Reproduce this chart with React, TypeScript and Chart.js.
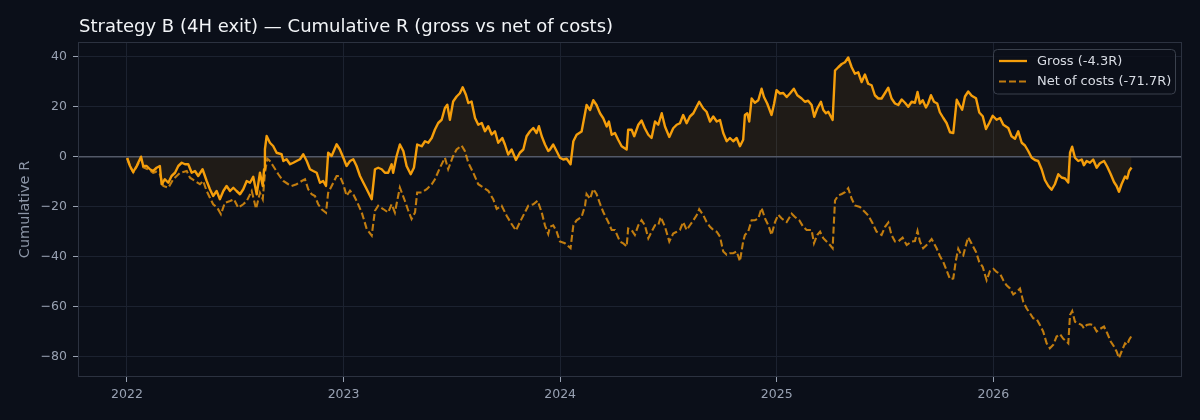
import React, { useEffect, useRef } from "react";
import { Chart, registerables } from "chart.js";

Chart.register(...registerables);

const TITLE = "Strategy B (4H exit) — Cumulative R (gross vs net of costs)";
const Y_LABEL = "Cumulative R";
const GROSS_LABEL = "Gross (-4.3R)";
const NET_LABEL = "Net of costs (-71.7R)";
const START_YEAR = 2022;
const YEAR_TICKS = [2022, 2023, 2024, 2025, 2026];
const Y_TICKS = [-80, -60, -40, -20, 0, 20, 40];
const X_MIN = 2021.774;
const X_MAX = 2026.871;
const Y_MIN = -88.1;
const Y_MAX = 45.9;

// time in years since 2022-01-01
const grossT = [
  0.001, 0.014, 0.029, 0.045, 0.065, 0.075, 0.091, 0.106, 0.121, 0.137, 0.152, 0.16, 0.175, 0.191, 0.206,
  0.222, 0.237, 0.253, 0.268, 0.283, 0.299, 0.314, 0.329, 0.349, 0.368, 0.383, 0.398, 0.414, 0.429, 0.445,
  0.46, 0.476, 0.491, 0.506, 0.522, 0.537, 0.553, 0.568, 0.583, 0.599, 0.614, 0.627, 0.633, 0.637, 0.645,
  0.66, 0.675, 0.691, 0.714, 0.722, 0.737, 0.753, 0.768, 0.783, 0.799, 0.814, 0.83, 0.845, 0.86, 0.876,
  0.891, 0.906, 0.919, 0.929, 0.945, 0.968, 0.983, 0.999, 1.014, 1.03, 1.045, 1.06, 1.076, 1.091, 1.107,
  1.13, 1.145, 1.16, 1.176, 1.191, 1.206, 1.222, 1.229, 1.245, 1.26, 1.276, 1.291, 1.31, 1.325, 1.34,
  1.361, 1.376, 1.391, 1.407, 1.422, 1.437, 1.453, 1.468, 1.479, 1.491, 1.506, 1.522, 1.537, 1.55, 1.565,
  1.576, 1.591, 1.607, 1.622, 1.638, 1.653, 1.668, 1.684, 1.699, 1.714, 1.733, 1.745, 1.76, 1.776, 1.796,
  1.814, 1.83, 1.845, 1.861, 1.876, 1.891, 1.902, 1.915, 1.93, 1.945, 1.953, 1.968, 1.984, 1.999, 2.014,
  2.03, 2.048, 2.061, 2.076, 2.099, 2.115, 2.122, 2.138, 2.153, 2.168, 2.184, 2.199, 2.215, 2.225, 2.238,
  2.253, 2.268, 2.284, 2.307, 2.314, 2.33, 2.342, 2.361, 2.376, 2.391, 2.407, 2.422, 2.438, 2.453, 2.469,
  2.484, 2.504, 2.522, 2.538, 2.553, 2.568, 2.584, 2.599, 2.615, 2.63, 2.642, 2.661, 2.676, 2.692, 2.707,
  2.723, 2.738, 2.753, 2.769, 2.784, 2.799, 2.815, 2.83, 2.845, 2.853, 2.864, 2.873, 2.884, 2.899, 2.915,
  2.93, 2.941, 2.956, 2.976, 2.988, 2.999, 3.015, 3.03, 3.046, 3.061, 3.079, 3.095, 3.115, 3.13, 3.145,
  3.161, 3.173, 3.187, 3.204, 3.215, 3.227, 3.238, 3.258, 3.269, 3.284, 3.3, 3.315, 3.33, 3.346, 3.361,
  3.376, 3.392, 3.407, 3.422, 3.438, 3.453, 3.469, 3.484, 3.5, 3.515, 3.53, 3.546, 3.561, 3.577, 3.592,
  3.607, 3.623, 3.638, 3.65, 3.661, 3.674, 3.689, 3.699, 3.712, 3.726, 3.741, 3.753, 3.769, 3.784, 3.8,
  3.815, 3.831, 3.843, 3.856, 3.869, 3.884, 3.9, 3.92, 3.935, 3.951, 3.966, 3.981, 3.997, 4.015, 4.031,
  4.046, 4.069, 4.084, 4.1, 4.115, 4.131, 4.146, 4.161, 4.177, 4.192, 4.207, 4.223, 4.238, 4.254, 4.269,
  4.284, 4.3, 4.315, 4.331, 4.346, 4.354, 4.364, 4.377, 4.392, 4.408, 4.418, 4.431, 4.446, 4.461, 4.477,
  4.492, 4.511, 4.526, 4.542, 4.557, 4.569, 4.58, 4.592, 4.608, 4.618, 4.627, 4.638,
];
const grossR = [
  -0.5, -3.7, -6.1, -3.7, 0, -3.7, -3.7, -5, -5.7, -4.4, -3.7, -11, -9, -10.4, -7.7,
  -6.4, -3.7, -2.4, -3, -3, -6.4, -5.7, -7.7, -5, -9.7, -13, -15.7, -13.7, -17, -13.7,
  -11.7, -13.7, -12.4, -13.7, -15, -13, -9.7, -10.4, -8, -15, -6.4, -11.7, -5, 3, 8.3,
  5.6, 4.3, 1.6, 1, -1.7, -1, -3, -2.4, -1.7, -1, 1, -1.7, -5, -5.7, -6.4,
  -10.4, -9.7, -11.7, 1.6, 0.3, 5, 2.9, -0.4, -3.7, -1.7, -1, -3.7, -7.7, -10.3, -13,
  -17, -5, -4.4, -5, -6.4, -6.4, -3, -6.4, 0.3, 4.9, 2.3, -3.7, -7, -4.4, 4.9,
  4.2, 6.2, 5.6, 7.5, 10.9, 13.5, 14.8, 19.5, 20.8, 14.8, 22.1, 24.1, 25.4, 27.8, 24.8,
  21.5, 22.1, 15.5, 12.8, 13.5, 10.2, 12.2, 8.9, 10.2, 5.6, 7.5, 4.9, 0.9, 2.9, -1.3,
  1.6, 2.9, 8.2, 10.2, 11.5, 9.5, 12.2, 8.2, 4.9, 2.3, 2.9, 4.9, 2.2, -0.4, -1.1,
  -0.8, -3, 6.2, 8.8, 10.1, 17.4, 20.7, 18.7, 22.6, 20.7, 17.4, 15.4, 12.1, 14.1, 8.8,
  9.5, 6.8, 4.2, 2.9, 10.8, 10.8, 8.2, 12.8, 14.5, 11.4, 8.8, 7.5, 14.1, 12.8, 17.4,
  12.1, 7.9, 11.4, 12.8, 13.4, 16.7, 13.4, 16.1, 17.4, 20, 22, 19.3, 18, 14.1, 16.1,
  14.1, 14.7, 9.5, 6.2, 7.5, 6.2, 7.5, 4.2, 6.8, 16.7, 17.4, 14.1, 23.3, 21.6, 22.6,
  27.2, 23.9, 21.3, 16.7, 21.3, 26.6, 25.3, 25.5, 23.9, 25.3, 27.2, 24.6, 23.3, 22, 22.4,
  20.7, 16, 19.3, 22, 18.7, 17.4, 18, 14.7, 34.5, 35.8, 37.1, 37.8, 39.7, 35.8, 33.2,
  33.8, 29.9, 32.9, 29.2, 28.6, 24.6, 23.3, 23.3, 25.5, 27.6, 23.3, 21.3, 20.7, 22.9, 21.6,
  20, 22, 21.6, 25.9, 21.3, 22.6, 19.7, 21.3, 24.6, 22, 21.3, 17.8, 15.5, 13.5, 9.8,
  9.5, 22.8, 20.8, 18.8, 24.1, 26.1, 24.4, 23.4, 17.7, 16.2, 11.1, 13.5, 16.4, 14.8, 15.5,
  12.8, 11.5, 8.2, 7.2, 10.2, 5.6, 4.5, 2.3, -0.4, -1.3, -1.7, -5, -9.3, -11.7, -13.2,
  -11, -7, -8.3, -8.7, -10.3, 1.6, 4, -0.4, -1.7, -1.1, -3.4, -1.7, -2.4, -1.1, -4.4,
  -2.6, -1.7, -4, -7, -10.1, -11.7, -14, -11, -7.9, -8.7, -5.7, -4.3,
];

const netT = [
  0.001, 0.014, 0.029, 0.045, 0.065, 0.075, 0.091, 0.106, 0.121, 0.137, 0.152, 0.168, 0.191, 0.214, 0.245,
  0.276, 0.291, 0.314, 0.337, 0.352, 0.368, 0.383, 0.398, 0.417, 0.434, 0.452, 0.476, 0.494, 0.514, 0.537,
  0.553, 0.576, 0.596, 0.614, 0.627, 0.637, 0.648, 0.66, 0.675, 0.699, 0.722, 0.745, 0.76, 0.783, 0.807,
  0.822, 0.837, 0.853, 0.868, 0.883, 0.899, 0.919, 0.929, 0.945, 0.968, 0.983, 0.999, 1.014, 1.03, 1.045,
  1.06, 1.084, 1.107, 1.13, 1.145, 1.16, 1.183, 1.206, 1.222, 1.237, 1.26, 1.283, 1.299, 1.314, 1.33,
  1.34, 1.361, 1.384, 1.407, 1.422, 1.445, 1.468, 1.483, 1.506, 1.522, 1.545, 1.56, 1.576, 1.599, 1.622,
  1.645, 1.668, 1.691, 1.707, 1.73, 1.753, 1.776, 1.796, 1.814, 1.837, 1.853, 1.876, 1.896, 1.915, 1.93,
  1.945, 1.953, 1.968, 1.984, 1.999, 2.022, 2.048, 2.061, 2.076, 2.099, 2.115, 2.122, 2.138, 2.153, 2.168,
  2.184, 2.199, 2.222, 2.238, 2.253, 2.276, 2.291, 2.307, 2.314, 2.33, 2.345, 2.361, 2.376, 2.391, 2.407,
  2.422, 2.438, 2.453, 2.464, 2.484, 2.504, 2.522, 2.538, 2.553, 2.568, 2.584, 2.599, 2.615, 2.63, 2.642,
  2.661, 2.676, 2.692, 2.707, 2.723, 2.738, 2.753, 2.769, 2.784, 2.799, 2.815, 2.83, 2.845, 2.853, 2.868,
  2.884, 2.899, 2.915, 2.93, 2.946, 2.961, 2.976, 2.992, 3.007, 3.023, 3.046, 3.069, 3.084, 3.104, 3.122,
  3.138, 3.161, 3.172, 3.187, 3.2, 3.215, 3.23, 3.246, 3.258, 3.269, 3.284, 3.3, 3.315, 3.33, 3.346,
  3.361, 3.384, 3.407, 3.422, 3.443, 3.461, 3.484, 3.5, 3.515, 3.53, 3.546, 3.561, 3.581, 3.6, 3.623,
  3.638, 3.65, 3.661, 3.676, 3.692, 3.715, 3.738, 3.753, 3.769, 3.784, 3.8, 3.815, 3.827, 3.838, 3.849,
  3.861, 3.873, 3.884, 3.9, 3.92, 3.935, 3.951, 3.969, 3.984, 4.0, 4.015, 4.031, 4.046, 4.061, 4.077,
  4.092, 4.108, 4.123, 4.138, 4.154, 4.169, 4.184, 4.2, 4.215, 4.23, 4.246, 4.261, 4.277, 4.292, 4.308,
  4.323, 4.338, 4.346, 4.354, 4.364, 4.377, 4.392, 4.408, 4.418, 4.431, 4.446, 4.461, 4.477, 4.492, 4.511,
  4.526, 4.542, 4.557, 4.569, 4.58, 4.592, 4.608, 4.618, 4.627, 4.638,
];
const netR = [
  -0.5, -3.9, -6.3, -4, -0.5, -4.2, -4.8, -5.5, -6.4, -6, -7, -11.7, -12.4, -9, -6.4,
  -5.7, -8.4, -9.7, -11, -9.7, -13.7, -16.4, -19, -20.4, -23, -18.4, -17.7, -17, -20.4, -19,
  -17.7, -13.7, -20.8, -14.4, -17, -6.4, -0.8, -1.7, -3.7, -7, -9.7, -11, -11.7, -11, -9.7,
  -9, -13, -15, -15.7, -19, -21, -22.4, -14.4, -11.7, -7.7, -7.7, -11, -15.6, -13.6, -15,
  -17.6, -22.3, -28.9, -31.5, -21.6, -19.6, -20.9, -22.3, -19, -22.3, -12.3, -17.6, -21.6, -24.9, -22.3,
  -14.3, -14.3, -13, -11, -9, -4.4, -0.4, -5, 0.3, 2.9, 4.5, 2.3, -2.4, -6.4, -11,
  -12.3, -13.6, -17, -20.9, -19.6, -23.6, -26.9, -29.5, -26.2, -22.3, -19.6, -19, -17.6, -22.3, -27.5,
  -30.9, -28, -27.4, -30, -33.9, -34.6, -36.6, -27.4, -25.4, -24.1, -19.5, -14.9, -16.8, -12.9, -14.9,
  -18.8, -22.1, -26.1, -29.3, -29.3, -33.9, -34.6, -35.9, -28.7, -29.3, -31.3, -27.4, -25.4, -27.4, -32.6,
  -30, -27.4, -27.4, -24.1, -28, -33.9, -30.7, -30, -29.3, -26.1, -29.3, -27.4, -25.4, -23.4, -21,
  -23.4, -26.1, -28, -29.3, -30, -32, -37.9, -39.2, -38.6, -38.6, -37.9, -41.8, -33.9, -31.3, -30,
  -25.4, -25.4, -24.7, -20.5, -24.7, -27.4, -31.3, -26.1, -23.2, -24.7, -26.1, -22.8, -24.1, -25.4, -28,
  -29.3, -29.3, -34.6, -31.3, -30, -32.6, -33.9, -35.3, -36.6, -17.5, -15.5, -14.9, -14.2, -12.6, -16.8,
  -19.5, -20.1, -22.1, -23.4, -26.7, -30, -31.3, -28, -26.3, -31.3, -33.9, -33.9, -32.4, -35.3, -33.9,
  -33.7, -29.7, -33.9, -36.6, -35.3, -32.9, -36.6, -39.7, -42.1, -45.4, -49, -48.7, -41.5, -36.8, -38.8,
  -39.5, -35.5, -32.2, -34.8, -38.1, -42.1, -44.1, -49.4, -45.8, -44.8, -46.1, -46.8, -49.4, -51.4, -52.7,
  -55.1, -54, -52.7, -58, -60.7, -62.6, -64.6, -64.9, -67.3, -69.9, -74.6, -76.6, -75.2, -71.9, -71,
  -72.8, -73.9, -74.6, -63.3, -61.7, -66, -66.6, -67.3, -68.6, -67.3, -67, -67.3, -69.9, -68.9, -67.9,
  -70.6, -73.9, -75.9, -77.9, -80.5, -77.9, -74.6, -75.2, -73.2, -71.7,
];

const BG = "#0b0f19";
const GRID = "#1c2230";
const SPINE = "#2c3240";
const ZERO = "#535968";
const TICK_TEXT = "#98a1b2";
const LABEL_TEXT = "#8c95a6";
const TITLE_TEXT = "#f2f4f7";
const GROSS_COLOR = "#f59e0b";
const NET_COLOR = "rgba(240,152,12,0.8)";
const FILL_COLOR = "rgba(245,158,11,0.085)";
const NET_DASH = [7, 3];
const FONT = "'DejaVu Sans', sans-serif";

const decorPlugin = {
  id: "decor",
  beforeDatasetsDraw(chart: any) {
    const { ctx, chartArea } = chart;
    const y0 = chart.scales.y.getPixelForValue(0);
    ctx.save();
    ctx.strokeStyle = ZERO;
    ctx.lineWidth = 1.5;
    ctx.beginPath();
    ctx.moveTo(chartArea.left, y0);
    ctx.lineTo(chartArea.right, y0);
    ctx.stroke();
    ctx.restore();
  },
  afterDraw(chart: any) {
    const { ctx, chartArea } = chart;
    ctx.save();
    // frame
    ctx.strokeStyle = SPINE;
    ctx.lineWidth = 1;
    ctx.strokeRect(
      Math.round(chartArea.left) + 0.5,
      Math.round(chartArea.top) + 0.5,
      Math.round(chartArea.right - chartArea.left) - 1,
      Math.round(chartArea.bottom - chartArea.top) - 1
    );
    // title
    ctx.fillStyle = TITLE_TEXT;
    ctx.font = `18px ${FONT}`;
    ctx.textAlign = "left";
    ctx.textBaseline = "alphabetic";
    ctx.fillText(TITLE, chartArea.left + 1, chartArea.top - 10);
    // y label
    ctx.save();
    ctx.translate(chartArea.left - 53, (chartArea.top + chartArea.bottom) / 2);
    ctx.rotate(-Math.PI / 2);
    ctx.fillStyle = LABEL_TEXT;
    ctx.font = `14.5px ${FONT}`;
    ctx.textAlign = "center";
    ctx.textBaseline = "middle";
    ctx.fillText(Y_LABEL, 0, 0);
    ctx.restore();
    // legend
    const w = 182;
    const h = 44.5;
    const x = chartArea.right - 7 - w;
    const y = chartArea.top + 7;
    ctx.beginPath();
    (ctx as any).roundRect(x + 0.5, y + 0.5, w, h, 4);
    ctx.fillStyle = "rgba(11,15,25,0.8)";
    ctx.fill();
    ctx.strokeStyle = "#3b414d";
    ctx.lineWidth = 1;
    ctx.stroke();
    const rows = [
      { label: GROSS_LABEL, color: GROSS_COLOR, dash: [] as number[], cy: y + 12, lw: 2.3 },
      { label: NET_LABEL, color: NET_COLOR, dash: NET_DASH, cy: y + 32.5, lw: 2.1 },
    ];
    ctx.font = `13px ${FONT}`;
    ctx.textAlign = "left";
    ctx.textBaseline = "middle";
    rows.forEach((r) => {
      ctx.beginPath();
      ctx.setLineDash(r.dash);
      ctx.strokeStyle = r.color;
      ctx.lineWidth = r.lw;
      ctx.moveTo(x + 6, r.cy);
      ctx.lineTo(x + 34, r.cy);
      ctx.stroke();
      ctx.setLineDash([]);
      ctx.fillStyle = "#d8dce4";
      ctx.fillText(r.label, x + 44, r.cy + 0.5);
    });
    ctx.restore();
  },
};

export default function App() {
  const ref = useRef<HTMLCanvasElement | null>(null);

  useEffect(() => {
    document.body.style.margin = "0";
    document.body.style.background = BG;
    const canvas = ref.current;
    if (!canvas) return;
    const grossData = grossT.map((t, i) => ({ x: START_YEAR + t, y: grossR[i] }));
    const netData = netT.map((t, i) => ({ x: START_YEAR + t, y: netR[i] }));
    const chart = new Chart(canvas, {
      type: "line",
      data: {
        datasets: [
          {
            label: GROSS_LABEL,
            data: grossData,
            borderColor: GROSS_COLOR,
            borderWidth: 2.4,
            borderJoinStyle: "round",
            pointRadius: 0,
            tension: 0,
            fill: { target: "origin", above: FILL_COLOR, below: FILL_COLOR } as any,
          },
          {
            label: NET_LABEL,
            data: netData,
            borderColor: NET_COLOR,
            borderWidth: 2.1,
            borderDash: NET_DASH,
            pointRadius: 0,
            tension: 0,
            fill: false,
          },
        ],
      },
      options: {
        responsive: false,
        animation: false,
        devicePixelRatio: 1,
        parsing: false,
        normalized: true,
        layout: { padding: { top: 42, right: 18, bottom: 0, left: 0 } },
        plugins: {
          legend: { display: false },
          tooltip: { enabled: false },
          title: { display: false },
          filler: { drawTime: "beforeDatasetsDraw" } as any,
        },
        scales: {
          x: {
            type: "linear",
            min: X_MIN,
            max: X_MAX,
            afterBuildTicks: (s: any) => {
              s.ticks = YEAR_TICKS.map((v) => ({ value: v }));
            },
            afterFit: (s: any) => {
              s.height = 43;
            },
            grid: { color: GRID, tickColor: TICK_TEXT, tickLength: 5, lineWidth: 1 },
            border: { display: false },
            ticks: {
              color: TICK_TEXT,
              font: { family: FONT, size: 12.5 },
              padding: 5,
              autoSkip: false,
              maxRotation: 0,
              callback: (v: any) => String(v),
            },
          },
          y: {
            type: "linear",
            min: Y_MIN,
            max: Y_MAX,
            afterBuildTicks: (s: any) => {
              s.ticks = Y_TICKS.map((v) => ({ value: v }));
            },
            afterFit: (s: any) => {
              s.width = 78;
            },
            grid: { color: GRID, tickColor: TICK_TEXT, tickLength: 5, lineWidth: 1 },
            border: { display: false },
            ticks: {
              color: TICK_TEXT,
              font: { family: FONT, size: 12.5 },
              padding: 6,
              autoSkip: false,
              callback: (v: any) => (Number(v) < 0 ? "\u2212" + Math.abs(Number(v)) : String(v)),
            },
          },
        },
      },
      plugins: [decorPlugin],
    });
    return () => chart.destroy();
  }, []);

  return (
    <div style={{ position: "fixed", left: 0, top: 0, width: 1200, height: 420, background: BG }}>
      <canvas ref={ref} width={1200} height={420} style={{ display: "block", width: 1200, height: 420 }} />
    </div>
  );
}
